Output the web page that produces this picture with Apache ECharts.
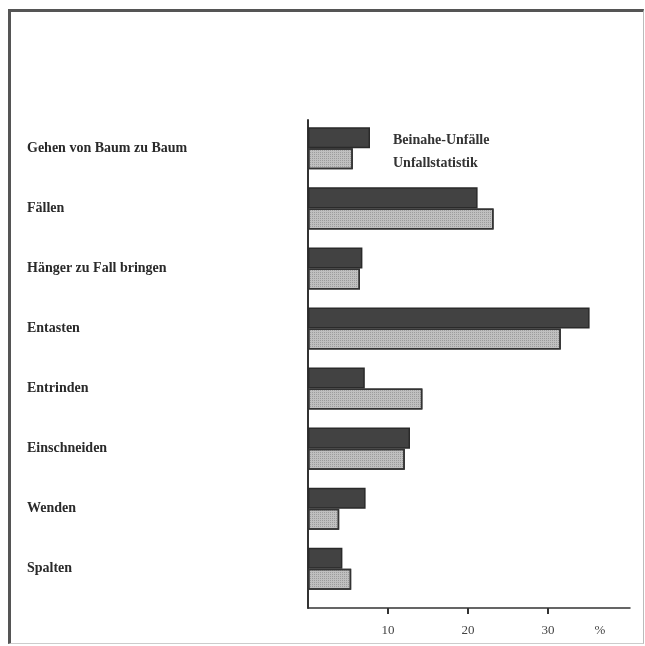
<!DOCTYPE html>
<html>
<head>
<meta charset="utf-8">
<script src="https://cdn.jsdelivr.net/npm/echarts@6/dist/echarts.min.js"></script>
<style>
html,body{margin:0;padding:0;background:#fff;}
#wrap{position:relative;width:645px;height:646px;}
#frame{position:absolute;left:8px;top:9px;width:636px;height:635px;box-sizing:border-box;
  border-left:3px solid #555;border-top:3px solid #555;border-right:1px solid #bbb;border-bottom:1px solid #ccc;}
#chart{position:absolute;left:0;top:0;width:645px;height:646px;}
</style>
</head>
<body>
<div id="wrap"><div id="frame"></div><div id="chart"></div></div>
<script>
var categories = ['Gehen von Baum zu Baum','Fällen','Hänger zu Fall bringen','Entasten','Entrinden','Einschneiden','Wenden','Spalten'];
var seriesNames = ['Beinahe-Unfälle','Unfallstatistik'];
var beinahe = [7.75, 21.2, 6.8, 35.2, 7.1, 12.75, 7.2, 4.3];
var statistik = [5.6, 23.2, 6.5, 31.6, 14.3, 12.1, 3.9, 5.4];
var tickValues = [10, 20, 30];
var unitLabel = '%';

var serif = '"Liberation Serif", "DejaVu Serif", serif';
var chart = echarts.init(document.getElementById('chart'), null, {renderer:'canvas'});
chart.setOption({
  animation:false,
  backgroundColor:'transparent',
  grid:[
    {left:308, top:118.3, height:480.5, width:322},
    {left:308, top:120, height:488, width:322}
  ],
  legend:{
    orient:'vertical', left:382, top:126, itemWidth:0, itemHeight:16, itemGap:5,
    icon:'rect',
    itemStyle:{opacity:0},
    data:seriesNames,
    textStyle:{fontFamily:serif, fontWeight:'bold', fontSize:14, lineHeight:16, color:'#333'}
  },
  xAxis:[
    {gridIndex:0, type:'value', min:0, max:40.25, show:false},
    {gridIndex:1, type:'value', min:0, max:40.25,
     name:unitLabel, nameLocation:'end', nameGap:-30,
     nameTextStyle:{fontFamily:serif, fontSize:13, color:'#444', align:'center', verticalAlign:'top', padding:[16,0,0,0]},
     axisLine:{show:true, lineStyle:{color:'#333', width:1.5}},
     axisTick:{show:true, customValues:tickValues, length:6, lineStyle:{color:'#333', width:2}},
     axisLabel:{customValues:tickValues, margin:16, fontFamily:serif, fontSize:13, color:'#444'},
     splitLine:{show:false}}
  ],
  yAxis:[
    {gridIndex:0, type:'category', inverse:true, data:categories,
     axisLine:{show:false}, axisTick:{show:false},
     axisLabel:{align:'left', margin:281, fontFamily:serif, fontWeight:'bold', fontSize:14, color:'#2a2a2a'}},
    {gridIndex:1, type:'value', min:0, max:1,
     axisLine:{show:true, lineStyle:{color:'#333', width:2}},
     axisTick:{show:false}, axisLabel:{show:false}, splitLine:{show:false}}
  ],
  series:[
    {name:seriesNames[0], type:'bar', xAxisIndex:0, yAxisIndex:0, data:beinahe,
     barGap:'0%', barCategoryGap:'30%',
     itemStyle:{color:'#424242', borderColor:'#2a2a2a', borderWidth:1.5}},
    {name:seriesNames[1], type:'bar', xAxisIndex:0, yAxisIndex:0, data:statistik,
     barGap:'0%', barCategoryGap:'30%',
     itemStyle:{color:'#c0c0c0', borderColor:'#333', borderWidth:1.5,
       decal:{symbol:'rect', symbolSize:1, color:'rgba(90,90,90,0.35)', dashArrayX:[1,1], dashArrayY:[1,1], rotation:0}}}
  ]
});
</script>
</body>
</html>
